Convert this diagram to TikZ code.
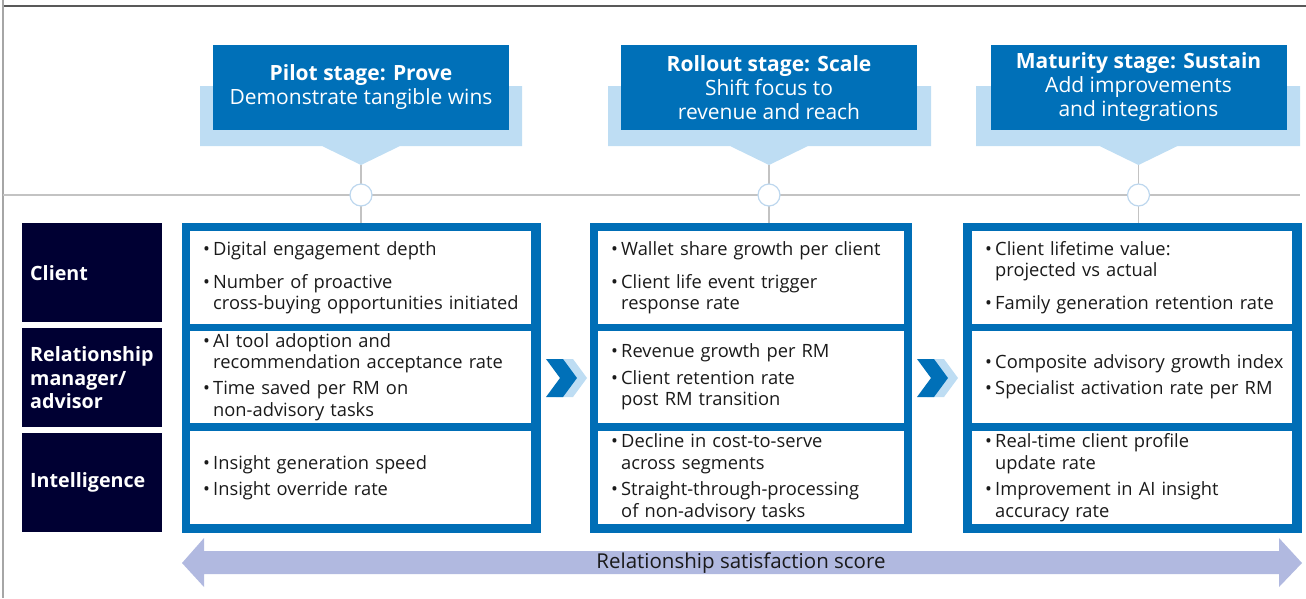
\documentclass[tikz,border=0pt]{standalone}
\usepackage{xcolor}
\usepackage{tikz}
\usepackage{fontspec}
\setmainfont{Open Sans}
\usetikzlibrary{positioning, calc}

\definecolor{stageblue}{RGB}{0,112,184}
\definecolor{stagelight}{RGB}{190,221,243}
\definecolor{navy}{RGB}{0,0,51}
\definecolor{frameblue}{RGB}{0,110,182}
\definecolor{scorelav}{RGB}{177,185,224}
\definecolor{rulegray}{RGB}{195,195,195}
\definecolor{ringblue}{RGB}{189,215,238}
\definecolor{inkgray}{RGB}{26,26,26}

\newcommand{\bul}{\hspace*{9pt}\makebox[10pt][l]{\textbullet}}
\newcommand{\cont}{\hspace*{19pt}}

\tikzstyle{stagebox} = [rectangle, fill=stageblue, text=white, minimum width=296pt, minimum height=85pt, inner sep=0pt, align=center, font=\fontsize{21}{24}\selectfont]
\tikzstyle{stageback} = [fill=stagelight]
\tikzstyle{rowlabel} = [rectangle, fill=navy, text=white, anchor=north west, minimum height=99pt, text width=124pt, inner xsep=8pt, inner ysep=0pt, align=left, font=\fontsize{19.7}{23.5}\selectfont\bfseries]
\tikzstyle{column} = [rectangle, fill=frameblue, anchor=north west, inner sep=0pt, minimum height=310pt]
\tikzstyle{cell} = [rectangle, fill=white, anchor=north west, minimum height=93pt, inner xsep=4pt, inner ysep=0pt, align=left, text=inkgray, font=\fontsize{18.3}{21.5}\selectfont]
\tikzstyle{milestone} = [circle, fill=white, draw=ringblue, line width=1.2pt, minimum size=22pt, inner sep=0pt]
\tikzstyle{stem} = [draw=rulegray, line width=1.2pt]

\begin{document}
\begin{tikzpicture}[x=1pt, y=-1pt]
    \useasboundingbox (0,0) rectangle (1306,598);
    % Frame lines
    \draw[gray!70!black, line width=1.5pt] (3,6) -- (1306,6);
    \draw[gray!70, line width=1.2pt] (3,0) -- (3,598);
    \draw[stem] (3,195) -- (1300,195);

    % Callout backgrounds
    \foreach \cx/\lx/\rx in {361/200/522, 769/608/931, 1138.5/976/1300}
        \fill[stageback] (\lx,86) rectangle (\rx,146) (\cx-39,146) -- (\cx,165) -- (\cx+39,146) -- cycle;

    % Nodes
    \node[stagebox] (pilot) at (361,87.5) {\textbf{Pilot stage: Prove}\\Demonstrate tangible wins};
    \node[stagebox] (rollout) at (769,87.5) {\textbf{Rollout stage: Scale}\\Shift focus to\\revenue and reach};
    \node[stagebox] (maturity) at (1138.5,87.5) {\textbf{Maturity stage: Sustain}\\Add improvements\\and integrations};

    \coordinate (pilottip) at (361,165);
    \coordinate (rollouttip) at (769,165);
    \coordinate (maturitytip) at (1138.5,165);

    \node[column, minimum width=359pt] (pilotcol) at (182,223) {};
    \node[column, minimum width=322pt] (rolloutcol) at (590,223) {};
    \node[column, minimum width=339pt] (maturitycol) at (963,223) {};

    \node[rowlabel] (client) at (22,223) {Client};
    \node[rowlabel] (manager) at (22,328) {Relationship\\manager/\\advisor};
    \node[rowlabel] (intel) at (22,433) {Intelligence};

    % Pilot cells
    \node[cell, text width=333pt] (pilotclient) at (190,231) {\bul Digital engagement depth\\[11.5pt]\bul Number of proactive\\\cont cross-buying opportunities initiated};
    \node[cell, text width=333pt, minimum height=92pt] (pilotmanager) at (190,331) {\bul AI tool adoption and\\\cont recommendation acceptance rate\\[4.5pt]\bul Time saved per RM on\\\cont non-advisory tasks};
    \node[cell, text width=333pt] (pilotintel) at (190,431) {\bul Insight generation speed\\[4pt]\bul Insight override rate};

    % Rollout cells
    \node[cell, text width=298pt] (rolloutclient) at (598,231) {\bul Wallet share growth per client\\[11.5pt]\bul Client life event trigger\\\cont response rate};
    \node[cell, text width=298pt, minimum height=92pt] (rolloutmanager) at (598,331) {\bul Revenue growth per RM\\[5pt]\bul Client retention rate\\\cont post RM transition};
    \node[cell, text width=298pt] (rolloutintel) at (598,431) {\bul Decline in cost-to-serve\\\cont across segments\\[5pt]\bul Straight-through-processing\\\cont of non-advisory tasks};

    % Maturity cells
    \node[cell, text width=312pt] (maturityclient) at (972,231) {\bul Client lifetime value:\\\cont projected vs actual\\[11.5pt]\bul Family generation retention rate};
    \node[cell, text width=312pt, minimum height=92pt] (maturitymanager) at (972,331) {\bul Composite advisory growth index\\[4.5pt]\bul Specialist activation rate per RM};
    \node[cell, text width=312pt] (maturityintel) at (972,431) {\bul Real-time client profile\\\cont update rate\\[5pt]\bul Improvement in AI insight\\\cont accuracy rate};

    % Stems
    \draw[stem] (pilottip) -- (pilottip |- pilotcol.north);
    \draw[stem] (rollouttip) -- (rollouttip |- rolloutcol.north);
    \draw[stem] (maturitytip) -- (maturitytip |- maturitycol.north);
    \node[milestone] (pilotdot) at (pilottip |- 0,195) {};
    \node[milestone] (rolloutdot) at (rollouttip |- 0,195) {};
    \node[milestone] (maturitydot) at (maturitytip |- 0,195) {};

    % Chevrons
    \foreach \sx in {0,371} {
        \fill[stagelight, shift={(\sx,0)}] (556,359) -- (573,359) -- (587,378) -- (573,397) -- (556,397) -- (570,378) -- cycle;
        \fill[stageblue, shift={(\sx,0)}] (546,359) -- (563,359) -- (577,378) -- (563,397) -- (546,397) -- (560,378) -- cycle;
    }

    % Score arrow
    \fill[scorelav] (182,563) -- (204,538) -- (204,551) -- (1279,551) -- (1279,538) -- (1302,563) -- (1279,587) -- (1279,574) -- (204,574) -- (204,587) -- cycle;
    \node[text=inkgray, font=\fontsize{20.5}{22}\selectfont] (score) at (741,563) {Relationship satisfaction score};

\end{tikzpicture}
\end{document}
